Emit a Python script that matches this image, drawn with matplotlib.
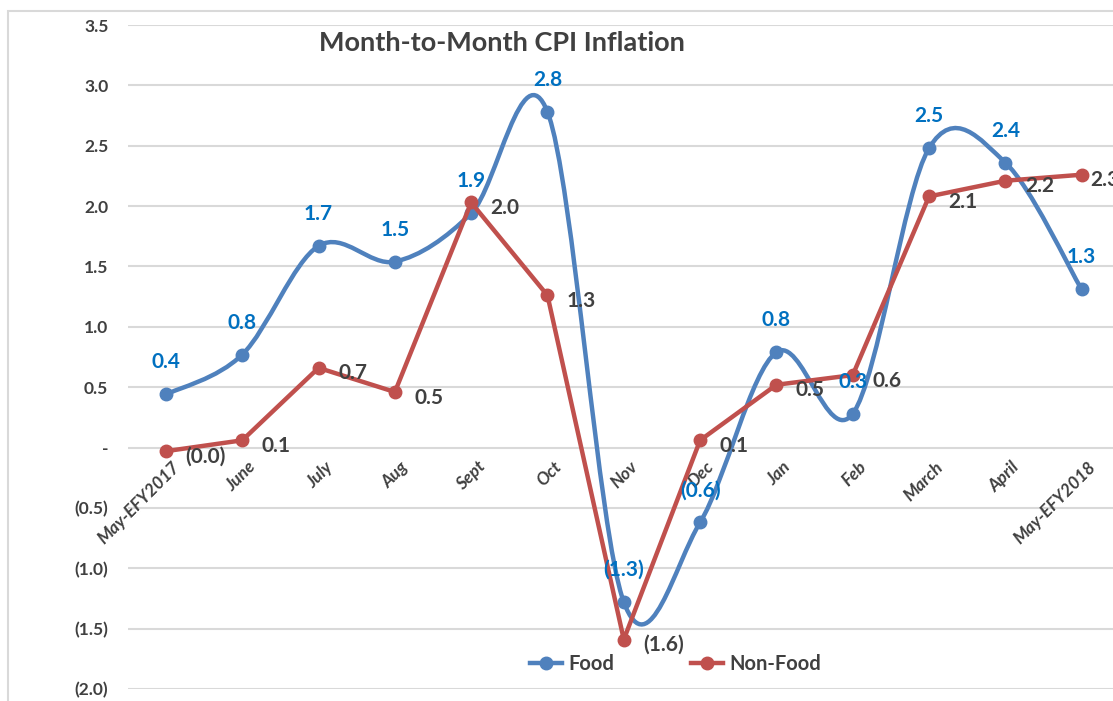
import matplotlib.pyplot as plt
from matplotlib.path import Path
from matplotlib.patches import PathPatch, Rectangle
from matplotlib.lines import Line2D
import numpy as np

months = ['May-EFY2017', 'June', 'July', 'Aug', 'Sept', 'Oct', 'Nov', 'Dec',
          'Jan', 'Feb', 'March', 'April', 'May-EFY2018']
food = [0.44, 0.77, 1.67, 1.54, 1.94, 2.78, -1.28, -0.62, 0.79, 0.28, 2.48, 2.36, 1.31]
non_food = [-0.03, 0.06, 0.66, 0.46, 2.03, 1.26, -1.59, 0.06, 0.52, 0.60, 2.08, 2.21, 2.26]
y_ticks = [3.5, 3.0, 2.5, 2.0, 1.5, 1.0, 0.5, 0.0, -0.5, -1.0, -1.5, -2.0]

FOOD_C = '#4F81BD'
NONFOOD_C = '#C0504D'
TEXT_C = '#404040'
LABEL_BLUE = '#0070C0'
GRID_C = '#D9D9D9'

plt.rcParams['font.family'] = ['Lato', 'DejaVu Sans']


def fmt(v):
    if abs(v) < 0.005:
        return '-'
    if v < 0:
        return '(%.1f)' % abs(v)
    return '%.1f' % v


def smooth_path(xs, ys):
    # Excel-style smoothed line: cubic bezier with catmull-rom control points
    pts = np.column_stack([xs, ys]).astype(float)
    n = len(pts)
    verts = [pts[0]]
    codes = [Path.MOVETO]
    for i in range(n - 1):
        p0 = pts[max(i - 1, 0)]
        p1 = pts[i]
        p2 = pts[i + 1]
        p3 = pts[min(i + 2, n - 1)]
        c1 = p1 + (p2 - p0) / 6.0
        c2 = p2 - (p3 - p1) / 6.0
        verts += [c1, c2, p2]
        codes += [Path.CURVE4] * 3
    return Path(verts, codes)


fig = plt.figure(figsize=(11.13, 7.01), dpi=100)
ax = fig.add_axes([127.8 / 1113, 12 / 701, 992 / 1113, 664 / 701])

x = np.arange(len(months))

# food: smoothed line
ax.add_patch(PathPatch(smooth_path(x, food), facecolor='none', edgecolor=FOOD_C,
                       lw=3.2, capstyle='round', joinstyle='round', zorder=2))
ax.plot(x, food, linestyle='none', marker='o', markersize=9, color=FOOD_C, zorder=3)

# non-food: straight line
ax.plot(x, non_food, linestyle='-', lw=3.2, marker='o', markersize=9,
        color=NONFOOD_C, zorder=4, solid_capstyle='round')

for i, v in enumerate(food):
    ax.annotate(fmt(v), xy=(i, v), xytext=(0, 23), textcoords='offset points',
                ha='center', va='center', fontsize=15, fontweight='bold',
                color=LABEL_BLUE, zorder=6)

for i, v in enumerate(non_food):
    dx = 6 if i == len(non_food) - 1 else 14
    ax.annotate(fmt(v), xy=(i, v), xytext=(dx, -4), textcoords='offset points',
                ha='left', va='center', fontsize=15, fontweight='bold',
                color=TEXT_C, zorder=6, annotation_clip=False)

# category labels sit on the zero line
for i, m in enumerate(months):
    ax.annotate(m, xy=(i, 0), xytext=(4, -8), textcoords='offset points',
                rotation=45, rotation_mode='anchor', ha='right', va='top',
                fontsize=12.5, fontweight='bold', fontstyle='italic', color=TEXT_C)

ax.set_xlim(-0.5, len(months) - 0.5)
ax.set_ylim(-2.0, 3.5)
ax.set_xticks([])
ax.set_yticks(y_ticks)
ax.set_yticklabels([fmt(v) for v in y_ticks], fontsize=12.5, fontweight='bold', color=TEXT_C)
ax.tick_params(axis='y', length=0, pad=14)
ax.grid(axis='y', color=GRID_C, lw=1.5)
ax.set_axisbelow(True)
for s in ax.spines.values():
    s.set_visible(False)

fig.text(502 / 1113, 1 - 43 / 701, 'Month-to-Month CPI Inflation', ha='center', va='center',
         fontsize=19.5, fontweight='bold', color=TEXT_C)

handles = [Line2D([], [], color=FOOD_C, lw=3.2, marker='o', markersize=9),
           Line2D([], [], color=NONFOOD_C, lw=3.2, marker='o', markersize=9)]
leg = ax.legend(handles, ['Food', 'Non-Food'], loc='center', bbox_to_anchor=(0.552, 0.038),
                ncol=2, frameon=False, handlelength=1.6, handletextpad=0.3,
                columnspacing=3.8, prop={'size': 14.5, 'weight': 'bold'})
for t in leg.get_texts():
    t.set_color(TEXT_C)

# outer chart border (cropped at right and bottom)
fig.patches.append(Rectangle((8 / 1113, -0.1), 1.2, 1.1 - 11 / 701, transform=fig.transFigure,
                             fill=False, edgecolor=GRID_C, lw=1.5))

plt.savefig('out.png', dpi=100)
plt.close()
